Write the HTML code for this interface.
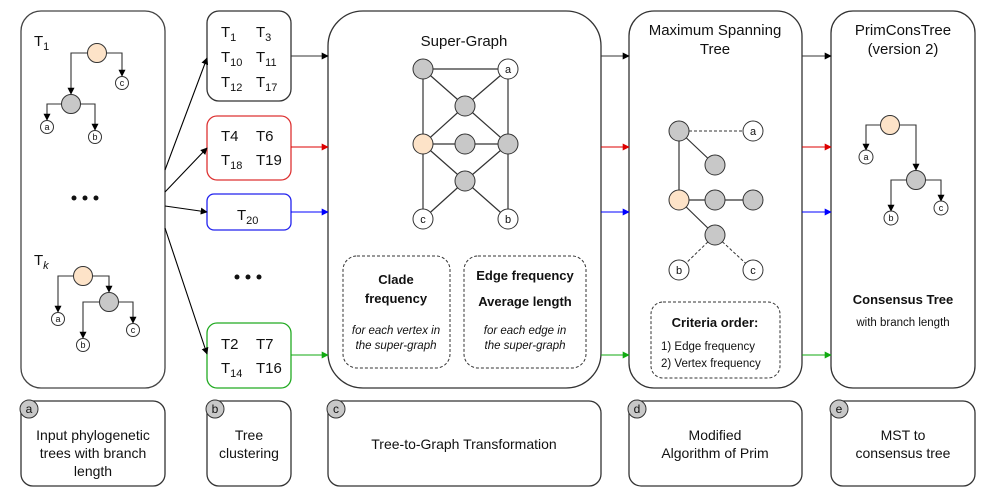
<!DOCTYPE html>
<html><head><meta charset="utf-8"><style>
html,body{margin:0;padding:0;background:#fff}
svg{display:block}
text{font-family:"Liberation Sans",sans-serif;fill:#111}
</style></head><body>
<svg width="996" height="497" viewBox="0 0 996 497" xmlns="http://www.w3.org/2000/svg">
<defs>
<marker id="ak" viewBox="0 0 10 10" refX="9" refY="5" markerWidth="7" markerHeight="7" orient="auto" markerUnits="userSpaceOnUse"><path d="M0,0L10,5L0,10z" fill="#000"/></marker>
<marker id="ar" viewBox="0 0 10 10" refX="9" refY="5" markerWidth="7" markerHeight="7" orient="auto" markerUnits="userSpaceOnUse"><path d="M0,0L10,5L0,10z" fill="#d00"/></marker>
<marker id="ab" viewBox="0 0 10 10" refX="9" refY="5" markerWidth="7" markerHeight="7" orient="auto" markerUnits="userSpaceOnUse"><path d="M0,0L10,5L0,10z" fill="#00f"/></marker>
<marker id="ag" viewBox="0 0 10 10" refX="9" refY="5" markerWidth="7" markerHeight="7" orient="auto" markerUnits="userSpaceOnUse"><path d="M0,0L10,5L0,10z" fill="#1a1"/></marker>
</defs>
<g fill="none" stroke-width="1.3">
<rect x="21" y="11" width="144" height="377" rx="20" stroke="#444"/>
<rect x="207" y="11" width="84" height="90" rx="12" stroke="#333"/>
<rect x="207" y="116" width="84" height="64" rx="10" stroke="#d33"/>
<rect x="207" y="194" width="84" height="36" rx="7" stroke="#22e"/>
<rect x="207" y="323" width="84" height="65" rx="10" stroke="#2a2"/>
<rect x="328" y="11" width="273" height="377" rx="35" stroke="#333"/>
<rect x="629" y="11" width="173" height="377" rx="25" stroke="#333"/>
<rect x="831" y="11" width="144" height="377" rx="22" stroke="#333"/>
<rect x="21" y="401" width="144" height="85" rx="12" stroke="#333"/>
<rect x="207" y="401" width="84" height="85" rx="12" stroke="#333"/>
<rect x="328" y="401" width="273" height="85" rx="12" stroke="#333"/>
<rect x="629" y="401" width="173" height="85" rx="12" stroke="#333"/>
<rect x="831" y="401" width="144" height="85" rx="12" stroke="#333"/>
<rect x="343" y="256" width="107" height="112" rx="14" stroke="#333" stroke-dasharray="3,2" stroke-width="1"/>
<rect x="464" y="256" width="122" height="112" rx="14" stroke="#333" stroke-dasharray="3,2" stroke-width="1"/>
<rect x="651" y="302" width="129" height="76" rx="12" stroke="#333" stroke-dasharray="3,2" stroke-width="1"/>
</g>
<!-- badges -->
<g fill="#c8c8c8" stroke="#333" stroke-width="1">
<circle cx="29" cy="409" r="9"/><circle cx="215" cy="409" r="9"/><circle cx="336" cy="409" r="9"/><circle cx="637" cy="409" r="9"/><circle cx="839" cy="409" r="9"/>
</g>
<g font-size="12" text-anchor="middle">
<text x="29" y="413">a</text><text x="215" y="413">b</text><text x="336" y="413">c</text><text x="637" y="413">d</text><text x="839" y="413">e</text>
</g>
<g font-size="14" text-anchor="middle">
<text x="93" y="440">Input phylogenetic</text><text x="93" y="458">trees with branch</text><text x="93" y="476">length</text>
<text x="249" y="440">Tree</text><text x="249" y="458">clustering</text>
<text x="464" y="449">Tree-to-Graph Transformation</text>
<text x="715" y="440">Modified</text><text x="715" y="458">Algorithm of Prim</text>
<text x="903" y="440">MST to</text><text x="903" y="458">consensus tree</text>
</g>
<!-- arrows from panel a -->
<g stroke="#000" stroke-width="1.1" marker-end="url(#ak)">
<line x1="165" y1="170" x2="207" y2="58"/>
<line x1="165" y1="192" x2="207" y2="148"/>
<line x1="165" y1="206" x2="207" y2="212"/>
<line x1="165" y1="228" x2="207" y2="354"/>
</g>
<!-- colored arrows -->
<g stroke-width="1.1">
<g stroke="#333" marker-end="url(#ak)"><line x1="291" y1="56" x2="328" y2="56"/><line x1="601" y1="56" x2="629" y2="56"/><line x1="802" y1="56" x2="831" y2="56"/></g>
<g stroke="#d00" marker-end="url(#ar)"><line x1="291" y1="147" x2="328" y2="147"/><line x1="601" y1="147" x2="629" y2="147"/><line x1="802" y1="147" x2="831" y2="147"/></g>
<g stroke="#00f" marker-end="url(#ab)"><line x1="291" y1="212" x2="328" y2="212"/><line x1="601" y1="212" x2="629" y2="212"/><line x1="802" y1="212" x2="831" y2="212"/></g>
<g stroke="#1a1" marker-end="url(#ag)"><line x1="291" y1="355" x2="328" y2="355"/><line x1="601" y1="355" x2="629" y2="355"/><line x1="802" y1="355" x2="831" y2="355"/></g>
</g>
<!-- cluster texts -->
<g font-size="15">
<text x="221" y="37">T<tspan font-size="11" dy="4">1</tspan></text><text x="256" y="37">T<tspan font-size="11" dy="4">3</tspan></text>
<text x="221" y="62">T<tspan font-size="11" dy="4">10</tspan></text><text x="256" y="62">T<tspan font-size="11" dy="4">11</tspan></text>
<text x="221" y="87">T<tspan font-size="11" dy="4">12</tspan></text><text x="256" y="87">T<tspan font-size="11" dy="4">17</tspan></text>
<text x="221" y="141">T4</text><text x="256" y="141">T6</text>
<text x="221" y="165">T<tspan font-size="11" dy="4">18</tspan></text><text x="256" y="165">T19</text>
<text x="237" y="220">T<tspan font-size="11" dy="4">20</tspan></text>
<text x="221" y="349">T2</text><text x="256" y="349">T7</text>
<text x="221" y="373">T<tspan font-size="11" dy="4">14</tspan></text><text x="256" y="373">T16</text>
<text x="34" y="46">T<tspan font-size="11" dy="4">1</tspan></text>
<text x="34" y="265">T<tspan font-size="11" dy="4" font-style="italic">k</tspan></text>
</g>
<g fill="#111"><circle cx="74" cy="198" r="2.5"/><circle cx="85" cy="198" r="2.5"/><circle cx="96" cy="198" r="2.5"/>
<circle cx="237" cy="277" r="2.5"/><circle cx="248" cy="277" r="2.5"/><circle cx="259" cy="277" r="2.5"/></g>
<!-- trees -->
<g fill="none" stroke="#333" stroke-width="1.1" marker-end="url(#ak)">
<path d="M88,53H71V94"/><path d="M106,53H122V76"/><path d="M62,104H47V120"/><path d="M80,104H95V130"/>
<path d="M74,276H58V312"/><path d="M92,276H109V292"/><path d="M100,302H83V338"/><path d="M118,302H133V323"/>
<path d="M881,125H866V150"/><path d="M899,125H916V170"/><path d="M907,180H891V211"/><path d="M925,180H941V201"/>
</g>
<g stroke="#333" stroke-width="1">
<circle cx="97" cy="53" r="9.5" fill="#fde3c8"/><circle cx="71" cy="104" r="9.5" fill="#c8c8c8"/>
<circle cx="83" cy="276" r="9.5" fill="#fde3c8"/><circle cx="109" cy="302" r="9.5" fill="#c8c8c8"/>
<circle cx="890" cy="125" r="9.5" fill="#fde3c8"/><circle cx="916" cy="180" r="9.5" fill="#c8c8c8"/>
<g fill="#fff"><circle cx="122" cy="83" r="6.5"/><circle cx="47" cy="127" r="6.5"/><circle cx="95" cy="137" r="6.5"/>
<circle cx="58" cy="319" r="6.5"/><circle cx="83" cy="345" r="6.5"/><circle cx="133" cy="330" r="6.5"/>
<circle cx="866" cy="157" r="7"/><circle cx="891" cy="218" r="7"/><circle cx="941" cy="208" r="7"/></g>
</g>
<g font-size="9" text-anchor="middle">
<text x="122" y="86">c</text><text x="47" y="130">a</text><text x="95" y="140">b</text>
<text x="58" y="322">a</text><text x="83" y="348">b</text><text x="133" y="333">c</text>
<text x="866" y="160">a</text><text x="891" y="221">b</text><text x="941" y="211">c</text>
</g>
<!-- super graph -->
<text x="464" y="46" font-size="15" text-anchor="middle">Super-Graph</text>
<g stroke="#333" stroke-width="1.2">
<line x1="423" y1="69" x2="508" y2="69"/><line x1="423" y1="69" x2="465" y2="106"/><line x1="508" y1="69" x2="465" y2="106"/>
<line x1="423" y1="69" x2="423" y2="144"/><line x1="508" y1="69" x2="508" y2="144"/>
<line x1="465" y1="106" x2="423" y2="144"/><line x1="465" y1="106" x2="508" y2="144"/>
<line x1="423" y1="144" x2="508" y2="144"/>
<line x1="423" y1="144" x2="465" y2="181"/><line x1="508" y1="144" x2="465" y2="181"/>
<line x1="423" y1="144" x2="423" y2="219"/><line x1="508" y1="144" x2="508" y2="219"/>
<line x1="465" y1="181" x2="423" y2="219"/><line x1="465" y1="181" x2="508" y2="219"/>
</g>
<g stroke="#333" stroke-width="1" fill="#c8c8c8">
<circle cx="423" cy="69" r="10"/><circle cx="465" cy="106" r="10"/><circle cx="465" cy="144" r="10"/><circle cx="508" cy="144" r="10"/><circle cx="465" cy="181" r="10"/>
<circle cx="423" cy="144" r="10" fill="#fde3c8"/>
<circle cx="508" cy="69" r="10" fill="#fff"/><circle cx="423" cy="219" r="10" fill="#fff"/><circle cx="508" cy="219" r="10" fill="#fff"/>
</g>
<g font-size="11" text-anchor="middle"><text x="508" y="73">a</text><text x="423" y="223">c</text><text x="508" y="223">b</text></g>
<g font-size="13" text-anchor="middle" font-weight="bold">
<text x="396" y="284">Clade</text><text x="396" y="303">frequency</text>
<text x="525" y="280">Edge frequency</text><text x="525" y="306">Average length</text>
</g>
<g font-size="11.5" text-anchor="middle" font-style="italic">
<text x="396" y="334">for each vertex in</text><text x="396" y="349">the super-graph</text>
<text x="525" y="334">for each edge in</text><text x="525" y="349">the super-graph</text>
</g>
<!-- MST -->
<g font-size="15" text-anchor="middle"><text x="715" y="35">Maximum Spanning</text><text x="715" y="54">Tree</text>
<text x="903" y="35">PrimConsTree</text><text x="903" y="54">(version 2)</text></g>
<g stroke="#333" stroke-width="1.2">
<line x1="679" y1="131" x2="753" y2="131" stroke-dasharray="3,2" stroke-width="1"/>
<line x1="679" y1="131" x2="715" y2="165"/><line x1="679" y1="131" x2="679" y2="200"/>
<line x1="679" y1="200" x2="753" y2="200"/><line x1="679" y1="200" x2="715" y2="235"/>
<line x1="715" y1="235" x2="679" y2="270" stroke-dasharray="3,2" stroke-width="1"/>
<line x1="715" y1="235" x2="753" y2="270" stroke-dasharray="3,2" stroke-width="1"/>
</g>
<g stroke="#333" stroke-width="1" fill="#c8c8c8">
<circle cx="679" cy="131" r="10"/><circle cx="715" cy="165" r="10"/><circle cx="715" cy="200" r="10"/><circle cx="753" cy="200" r="10"/><circle cx="715" cy="235" r="10"/>
<circle cx="679" cy="200" r="10" fill="#fde3c8"/>
<circle cx="753" cy="131" r="10" fill="#fff"/><circle cx="679" cy="270" r="10" fill="#fff"/><circle cx="753" cy="270" r="10" fill="#fff"/>
</g>
<g font-size="11" text-anchor="middle"><text x="753" y="135">a</text><text x="679" y="274">b</text><text x="753" y="274">c</text></g>
<text x="715" y="327" font-size="13" font-weight="bold" text-anchor="middle">Criteria order:</text>
<g font-size="11.5"><text x="661" y="350">1)  Edge frequency</text><text x="661" y="367">2)  Vertex frequency</text></g>
<text x="903" y="304" font-size="13" font-weight="bold" text-anchor="middle">Consensus Tree</text>
<text x="903" y="326" font-size="11.5" text-anchor="middle">with branch length</text>
</svg>
</body></html>
